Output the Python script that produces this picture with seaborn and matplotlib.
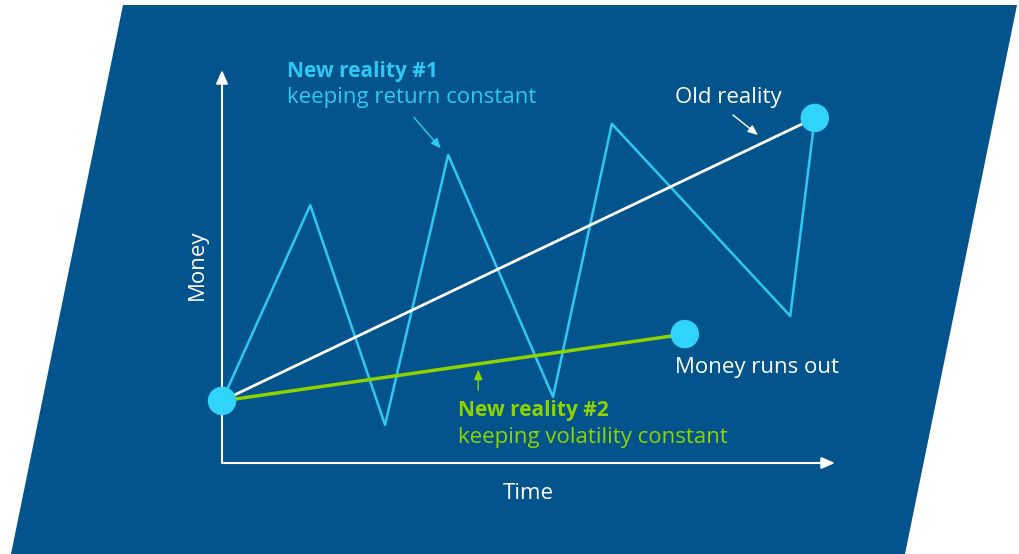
import seaborn as sns
import matplotlib.pyplot as plt
import pandas as pd
from matplotlib.patches import Polygon

# Data (time, money)
zigzag_time = [0.0, 1.44, 2.66, 3.69, 5.40, 6.36, 9.27, 9.67]
zigzag_money = [1.58, 6.56, 0.97, 7.84, 1.68, 8.63, 3.74, 8.78]
old_time = [0.0, 9.67]
old_money = [1.58, 8.78]
green_time = [0.0, 7.55]
green_money = [1.58, 3.28]
marker_time = [0.0, 9.67, 7.55]
marker_money = [1.58, 8.78, 3.28]

bg_blue = '#03548d'
cyan = '#2ec9f2'
dot_cyan = '#30d4fb'
green = '#8ed300'

sns.set_style('white')
plt.rcParams['font.family'] = ['Open Sans', 'DejaVu Sans']

fig = plt.figure(figsize=(10.2, 5.54), dpi=100)
fig.patch.set_facecolor('white')

ax = fig.add_axes([0, 0, 1, 1])
ax.patch.set_alpha(0)

# parallelogram background
ax.add_patch(Polygon([(123 / 1020, 1 - 5 / 554), (1017 / 1020, 1 - 5 / 554),
                      (905 / 1020, 0), (11 / 1020, 0)],
                     closed=True, transform=fig.transFigure,
                     facecolor=bg_blue, edgecolor='none', zorder=0))

# axes with arrows
ax.annotate('', xy=(10.0, 0), xytext=(0, 0),
            arrowprops=dict(arrowstyle='-|>,head_width=0.35,head_length=0.8',
                            color='white', lw=1.5, shrinkA=0, shrinkB=0))
ax.annotate('', xy=(0, 10.0), xytext=(0, 0),
            arrowprops=dict(arrowstyle='-|>,head_width=0.35,head_length=0.8',
                            color='white', lw=1.5, shrinkA=0, shrinkB=0))

df_zig = pd.DataFrame({'time': zigzag_time, 'money': zigzag_money})
df_old = pd.DataFrame({'time': old_time, 'money': old_money})
df_green = pd.DataFrame({'time': green_time, 'money': green_money})
df_dots = pd.DataFrame({'time': marker_time, 'money': marker_money})

sns.lineplot(data=df_zig, x='time', y='money', sort=False, color=cyan, lw=1.8, ax=ax)
sns.lineplot(data=df_old, x='time', y='money', sort=False, color='white', lw=2, ax=ax)
sns.lineplot(data=df_green, x='time', y='money', sort=False, color=green, lw=2.5, ax=ax)
sns.scatterplot(data=df_dots, x='time', y='money', color=dot_cyan, s=420,
                edgecolor='none', zorder=5, ax=ax)
ax.set_xlim(-222 / 61.3, 798 / 61.3)
ax.set_ylim(-91 / 39.3, 463 / 39.3)
ax.axis('off')

# labels
ax.text(5.0, -0.78, 'Time', color='white', fontsize=16, ha='center', va='center')
ax.text(-0.4, 5.05, 'Money', color='white', fontsize=16, ha='center', va='center',
        rotation=90)

ax.text(1.06, 9.95, 'New reality #1', color=cyan, fontsize=15, fontweight='bold',
        va='center')
ax.text(1.06, 9.3, 'keeping return constant', color=cyan, fontsize=16, va='center')
ax.annotate('', xy=(3.60, 7.95), xytext=(3.10, 8.85),
            arrowprops=dict(arrowstyle='-|>,head_width=0.25,head_length=0.6',
                            color=cyan, lw=1))

ax.text(7.39, 9.3, 'Old reality', color='white', fontsize=16, va='center')
ax.annotate('', xy=(8.78, 8.30), xytext=(8.30, 8.90),
            arrowprops=dict(arrowstyle='-|>,head_width=0.25,head_length=0.6',
                            color='white', lw=1))

ax.text(7.39, 2.44, 'Money runs out', color='white', fontsize=16, va='center')

ax.text(3.85, 1.33, 'New reality #2', color=green, fontsize=15, fontweight='bold',
        va='center')
ax.text(3.85, 0.66, 'keeping volatility constant', color=green, fontsize=16,
        va='center')
ax.annotate('', xy=(4.18, 2.45), xytext=(4.18, 1.78),
            arrowprops=dict(arrowstyle='-|>,head_width=0.25,head_length=0.6',
                            color=green, lw=1))

fig.savefig('out.png', dpi=100)
